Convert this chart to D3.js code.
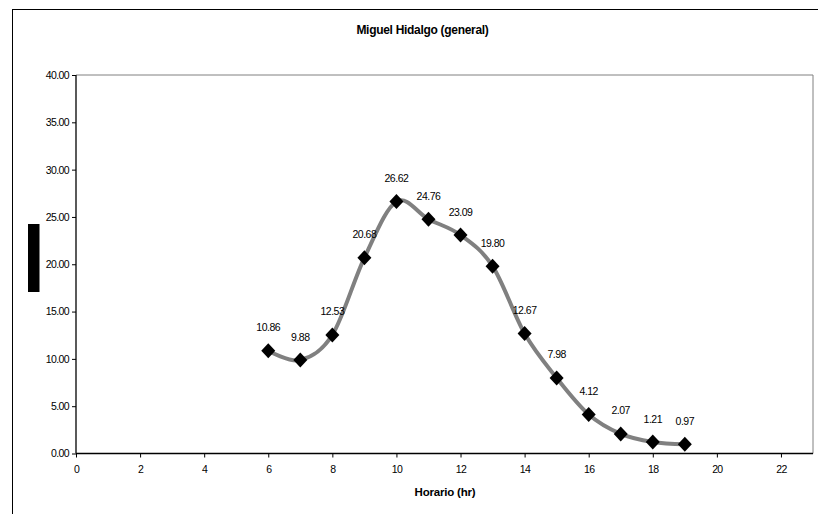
<!DOCTYPE html>
<html><head><meta charset="utf-8">
<script src="https://cdn.jsdelivr.net/npm/d3@7"></script>
<style>body{margin:0;background:#fff}svg{display:block;font-family:"Liberation Sans",Arial,sans-serif}</style>
</head><body><svg id="c" width="818" height="514"></svg>
<script>
const hours = [6,7,8,9,10,11,12,13,14,15,16,17,18,19];
const values = [10.86,9.88,12.53,20.68,26.62,24.76,23.09,19.80,12.67,7.98,4.12,2.07,1.21,0.97];
const valueLabels = ["10.86","9.88","12.53","20.68","26.62","24.76","23.09","19.80","12.67","7.98","4.12","2.07","1.21","0.97"];
const xTicks = [0,2,4,6,8,10,12,14,16,18,20,22];
const yTicks = [0,5,10,15,20,25,30,35,40];
const title = "Miguel Hidalgo (general)";
const xTitle = "Horario (hr)";

const svg = d3.select("#c");
const L=76, R=813, T=75, B=453.5;
const x = d3.scaleLinear().domain([0,23]).range([L,R]);
const y = d3.scaleLinear().domain([0,40]).range([B,T]);

// outer frame
svg.append("rect").attr("x",12.5).attr("y",9.5).attr("width",900).attr("height",600)
  .attr("fill","none").attr("stroke","#000").attr("stroke-width",1);

// plot area border (gray top/right)
svg.append("path").attr("d",`M${L},${T}H${R}V${B}`).attr("fill","none").attr("stroke","#808080").attr("stroke-width",1);

// title
svg.append("text").attr("x",422.5).attr("y",34).attr("text-anchor","middle")
  .attr("font-size",12).attr("font-weight","bold").attr("letter-spacing","-0.3").text(title);

// axes
const yAxis = svg.append("g").attr("transform",`translate(${L},0)`)
  .call(d3.axisLeft(y).tickValues(yTicks).tickSize(4).tickPadding(3).tickFormat(d3.format(".2f")));
const xAxis = svg.append("g").attr("transform",`translate(0,${B})`)
  .call(d3.axisBottom(x).tickValues(xTicks).tickSize(4).tickPadding(8).tickFormat(d3.format("d")));
[yAxis,xAxis].forEach(g=>{
  g.select(".domain").attr("stroke","#000").attr("stroke-width",1.3);
  g.selectAll(".tick line").attr("stroke","#000");
  g.selectAll("text").attr("font-size",10.5).attr("font-family","Liberation Sans, Arial, sans-serif").attr("letter-spacing","-0.6").attr("fill","#000");
});
yAxis.select(".domain").attr("d",`M0,${T}V${B}`);
xAxis.select(".domain").attr("d",`M${L},0H${R}`);

// y-axis title (rendered as a solid block in the reference)
svg.append("rect").attr("x",28).attr("y",224).attr("width",11.5).attr("height",68).attr("fill","#000");

// x-axis title
svg.append("text").attr("x",445).attr("y",496).attr("text-anchor","middle")
  .attr("font-size",11.5).attr("font-weight","bold").attr("letter-spacing","-0.2").text(xTitle);

// line
const pts = hours.map((h,i)=>[h,values[i]]);
svg.append("path").datum(pts)
  .attr("d",d3.line().x(d=>x(d[0])).y(d=>y(d[1])).curve(d3.curveCatmullRom.alpha(0)))
  .attr("fill","none").attr("stroke","#808080").attr("stroke-width",4);

// markers
const s=7.5;
svg.append("g").selectAll("path").data(pts).join("path")
  .attr("transform",d=>`translate(${x(d[0])},${y(d[1])})`)
  .attr("d",`M0,${-s}L${s-0.5},0L0,${s}L${-s+0.5},0Z`).attr("fill","#000");

// labels
svg.append("g").selectAll("text").data(pts).join("text")
  .attr("x",d=>x(d[0])).attr("y",d=>y(d[1])-19.5).attr("text-anchor","middle")
  .attr("font-size",10.5).attr("letter-spacing","-0.5").text((d,i)=>valueLabels[i]);
</script></body></html>
